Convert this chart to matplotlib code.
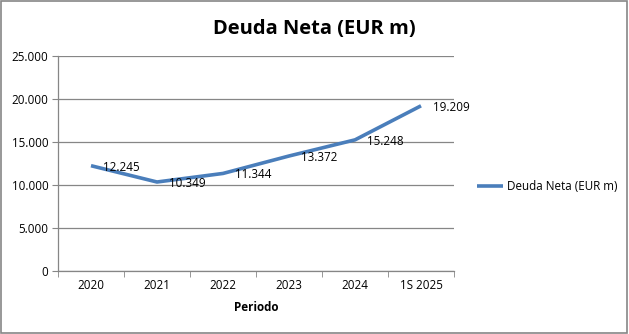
import matplotlib
matplotlib.use("Agg")
import matplotlib.pyplot as plt
from matplotlib.patches import Rectangle

categories = ["2020", "2021", "2022", "2023", "2024", "1S 2025"]
values = [12245, 10349, 11344, 13372, 15248, 19209]
labels = ["12.245", "10.349", "11.344", "13.372", "15.248", "19.209"]
yticks = [0, 5000, 10000, 15000, 20000, 25000]
ytick_labels = ["0", "5.000", "10.000", "15.000", "20.000", "25.000"]
series_name = "Deuda Neta (EUR m)"

FONT = ["Open Sans", "DejaVu Sans"]
plt.rcParams['font.family'] = FONT
FS = 8.4

fig = plt.figure(figsize=(6.29, 3.34), dpi=100)
ax = fig.add_axes([58/629, 1-271/334, (454-58)/629, (271-56)/334])

x = list(range(len(categories)))
line_color = "#4A7EBB"
ax.plot(x, values, color=line_color, lw=2.6, solid_capstyle="butt", label=series_name)

for xi, v, lab in zip(x, values, labels):
    ax.annotate(lab, (xi, v), xytext=(8.5, -1), textcoords="offset points",
                ha="left", va="center", fontsize=FS, color="#000000")

ax.set_xlim(-0.5, len(categories) - 0.5)
ax.set_ylim(0, 25000)
ax.set_yticks(yticks)
ax.set_yticklabels(ytick_labels, fontsize=FS)
ax.set_xticks(x)
ax.set_xticklabels(categories, fontsize=FS)
ax.set_xticks([i - 0.5 for i in range(len(categories) + 1)], minor=True)
ax.tick_params(axis="x", which="major", length=0, pad=6)
ax.tick_params(axis="x", which="minor", length=4, color="#868686", direction="out")
ax.tick_params(axis="y", length=4, color="#868686", direction="out", pad=3)

ax.grid(axis="y", color="#868686", lw=0.9)
ax.set_axisbelow(True)
for s in ["top", "right"]:
    ax.spines[s].set_visible(False)
for s in ["left", "bottom"]:
    ax.spines[s].set_color("#868686")
    ax.spines[s].set_linewidth(0.9)

ax.set_xlabel("Periodo", fontsize=FS, fontweight="bold", labelpad=6)
fig.text(0.5 * (213 + 416) / 629, 1 - 29/334, "Deuda Neta (EUR m)", ha="center", va="center",
         fontsize=14.5, fontweight="bold")

leg = fig.legend(loc="center left", bbox_to_anchor=(466/629, 1-187/334), frameon=False,
                 fontsize=FS, handlelength=2.3, handletextpad=0.3)

fig.patches.append(Rectangle((0.002, 0.003), 0.995, 0.993, transform=fig.transFigure,
                             fill=False, edgecolor="#868686", lw=1.2))

fig.savefig("out.png", dpi=100)
